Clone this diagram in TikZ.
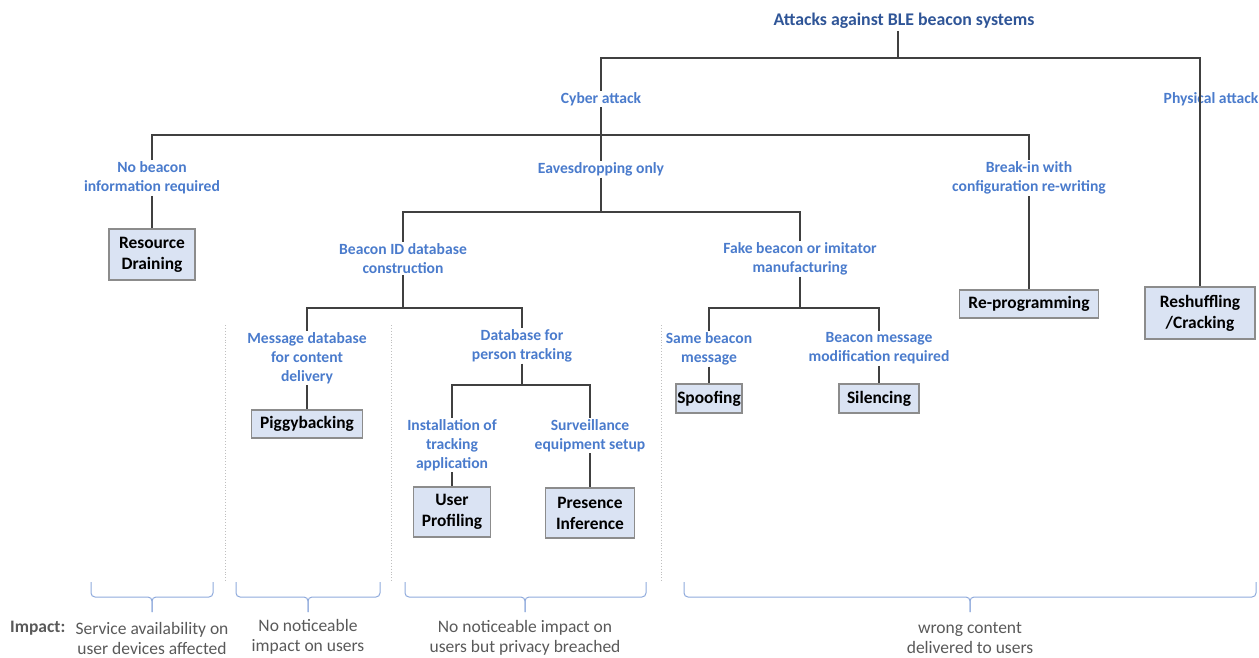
\documentclass[tikz,border=0pt]{standalone}
\usepackage{fontspec}
\setmainfont{Carlito}
\definecolor{lblue}{HTML}{4A7BCC}
\definecolor{tblue}{HTML}{2F5597}
\definecolor{boxfill}{HTML}{DAE3F3}
\definecolor{boxline}{HTML}{8C8C8C}
\definecolor{conn}{HTML}{404040}
\definecolor{gtext}{HTML}{595959}
\definecolor{brc}{HTML}{8FAADC}
\definecolor{dotc}{HTML}{BFBFBF}
\tikzset{
  lbl/.style={font=\fontsize{15.6}{19}\selectfont\bfseries, text=lblue, align=center, inner sep=1.5pt},
  ttl/.style={font=\fontsize{17.8}{19}\selectfont\bfseries, text=tblue, align=center, inner sep=2pt},
  attack/.style={draw=boxline, line width=1.2pt, fill=boxfill, font=\fontsize{17.4}{21}\selectfont\bfseries, align=center, inner sep=0pt},
  conline/.style={draw=conn, line width=1.5pt},
  sep/.style={draw=dotc, line width=0.9pt, dotted},
  brace/.style={draw=brc, line width=1pt, rounded corners=4pt},
  imp/.style={font=\fontsize{17.5}{20}\selectfont, text=gtext, align=center, inner sep=0pt},
}
\begin{document}
\begin{tikzpicture}[x=1pt,y=-1pt]
\useasboundingbox (0,0) rectangle (1259,657);
% nodes
\node[ttl] (root) at (904,21) {Attacks against BLE beacon systems};
\node[lbl] (cyber) at (601,99) {Cyber attack};
\node[lbl] (phys) at (1211,99) {Physical attack};
\node[lbl] (nob) at (152,178) {No beacon\\information required};
\node[lbl] (eav) at (601,169) {Eavesdropping only};
\node[lbl] (brk) at (1029,178) {Break-in with\\configuration re-writing};
\node[lbl] (bid) at (403,258.5) {Beacon ID database\\construction};
\node[lbl] (fake) at (800,258.5) {Fake beacon or imitator\\manufacturing};
\node[lbl] (msg) at (307,358) {Message database\\for content\\delivery};
\node[lbl] (pdb) at (522,345.5) {Database for\\person tracking};
\node[lbl] (inst) at (452,445) {Installation of\\tracking\\application};
\node[lbl] (surv) at (590,435.5) {Surveillance\\equipment setup};
\node[lbl] (same) at (709,348.5) {Same beacon\\message};
\node[lbl] (mod) at (879,348.5) {Beacon message\\modification required};
\node[attack, minimum width=86pt, minimum height=51pt] (res) at (152,254.5) {Resource\\Draining};
\node[attack, minimum width=111pt, minimum height=28pt] (pig) at (307,424) {Piggybacking};
\node[attack, minimum width=77pt, minimum height=50pt] (usr) at (452,512) {User\\Profiling};
\node[attack, minimum width=89pt, minimum height=50pt] (pres) at (590,513) {Presence\\Inference};
\node[attack, minimum width=66pt, minimum height=29pt] (spf) at (709,398.5) {Spoofing};
\node[attack, minimum width=80pt, minimum height=29pt] (sil) at (879,398.5) {Silencing};
\node[attack, minimum width=139pt, minimum height=28pt] (rep) at (1029,304) {Re-programming};
\node[attack, minimum width=110pt, minimum height=52pt] (rsh) at (1200,313) {Reshuffling\\/Cracking};
% connectors
\coordinate (rt) at ([xshift=-6pt]root.south);
\draw[conline] (rt) -- (rt |- 0,58);
\draw[conline] (cyber.north) -- (cyber.north |- 0,58) -- (rsh.north |- 0,58) -- (rsh.north);
\draw[conline] (cyber.south) -- (cyber.south |- 0,135);
\draw[conline] (nob.north) -- (nob.north |- 0,135) -- (brk.north |- 0,135) -- (brk.north);
\draw[conline] (eav.north) -- (eav.north |- 0,135);
\draw[conline] (nob.south) -- (res.north);
\draw[conline] (brk.south) -- (rep.north);
\draw[conline] (eav.south) -- (eav.south |- 0,212);
\draw[conline] (bid.north) -- (bid.north |- 0,212) -- (fake.north |- 0,212) -- (fake.north);
\draw[conline] (bid.south) -- (bid.south |- 0,308);
\draw[conline] (msg.north) -- (msg.north |- 0,308) -- (pdb.north |- 0,308) -- (pdb.north);
\draw[conline] (msg.south) -- (pig.north);
\draw[conline] (pdb.south) -- (pdb.south |- 0,385);
\draw[conline] (inst.north) -- (inst.north |- 0,385) -- (surv.north |- 0,385) -- (surv.north);
\draw[conline] (inst.south) -- (usr.north);
\draw[conline] (surv.south) -- (pres.north);
\draw[conline] (fake.south) -- (fake.south |- 0,308);
\draw[conline] (same.north) -- (same.north |- 0,308) -- (mod.north |- 0,308) -- (mod.north);
\draw[conline] (same.south) -- (spf.north);
\draw[conline] (mod.south) -- (sil.north);
% dotted separators
\draw[sep] (225,325) -- (225,582);
\draw[sep] (391,325) -- (391,582);
\draw[sep] (661,325) -- (661,582);
% braces
\foreach \a/\m/\b in {91/152/213, 236/308/380, 405/525/646, 684/970/1256}{
  \draw[brace] (\a,582) -- (\a,597) -- (\m,597) -- (\m,612);
  \draw[brace] (\b,582) -- (\b,597) -- (\m,597) -- (\m,612);
}
% impact texts
\node[imp, font=\fontsize{17.5}{20}\selectfont\bfseries, anchor=west] (impl) at (10,628) {Impact:};
\node[imp] (i1) at (152,638) {Service availability on\\user devices affected};
\node[imp] (i2) at (308,637) {No noticeable\\impact on users};
\node[imp] (i3) at (525,638) {No noticeable impact on\\users but privacy breached};
\node[imp] (i4) at (970,638) {wrong content\\delivered to users};
\end{tikzpicture}
\end{document}
